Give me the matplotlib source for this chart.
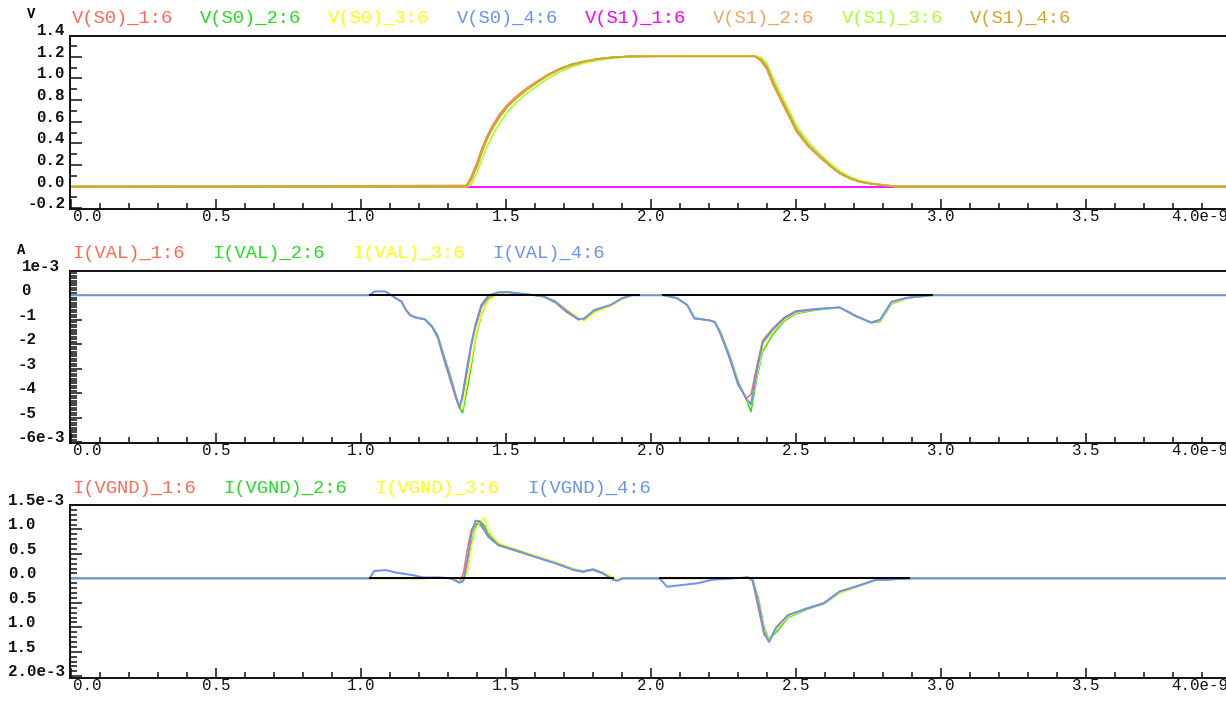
import matplotlib
matplotlib.use("Agg")
import matplotlib.pyplot as plt
from matplotlib.transforms import blended_transform_factory, ScaledTranslation
from matplotlib.ticker import MultipleLocator

# ---------------- data (time in ns) ----------------
# Panel 1: node voltages
t_v = [0.0, 1.364, 1.38, 1.399, 1.415, 1.433, 1.455, 1.479, 1.505, 1.537, 1.57, 1.606,
       1.645, 1.686, 1.725, 1.767, 1.81, 1.847, 1.9, 1.94, 2.0, 2.359, 2.38, 2.399, 2.422,
       2.456, 2.48, 2.502, 2.54, 2.583, 2.62, 2.652, 2.69, 2.721, 2.76, 2.79, 2.847, 3.983]
v_main = [0, 0, 0.07, 0.186, 0.31, 0.434, 0.55, 0.651, 0.74, 0.822, 0.895, 0.962,
          1.03, 1.086, 1.125, 1.153, 1.175, 1.188, 1.198, 1.203, 1.205, 1.205, 1.17, 1.11, 0.957,
          0.772, 0.645, 0.525, 0.39, 0.278, 0.19, 0.124, 0.075, 0.046, 0.028, 0.018, 0.0, 0.0]
v_lead = [0, 0.01, 0.09, 0.21, 0.335, 0.455, 0.57, 0.67, 0.755, 0.835, 0.905, 0.97,
          1.035, 1.09, 1.128, 1.155, 1.176, 1.189, 1.198, 1.203, 1.205, 1.205, 1.16, 1.09, 0.94,
          0.755, 0.63, 0.51, 0.38, 0.27, 0.185, 0.12, 0.072, 0.044, 0.027, 0.017, 0.0, 0.0]
v_lag = [0, 0, 0.02, 0.12, 0.24, 0.36, 0.48, 0.59, 0.69, 0.78, 0.86, 0.93,
         1.0, 1.06, 1.105, 1.14, 1.165, 1.18, 1.195, 1.202, 1.205, 1.205, 1.19, 1.14, 1.0,
         0.81, 0.68, 0.56, 0.42, 0.30, 0.21, 0.14, 0.085, 0.055, 0.03, 0.02, 0.0, 0.0]
v_zero = [0.0] * len(t_v)

# Panel 2: I(VAL) in mA
t_val = [0.0, 1.03, 1.045, 1.06, 1.085, 1.105, 1.12, 1.14, 1.155, 1.17, 1.19, 1.22, 1.245,
         1.265, 1.285, 1.31, 1.33, 1.34, 1.35, 1.365, 1.38, 1.395, 1.415, 1.44, 1.475, 1.505,
         1.545, 1.6, 1.63, 1.67, 1.71, 1.75, 1.77, 1.805, 1.86, 1.9, 1.935, 2.045, 2.09, 2.125,
         2.15, 2.2, 2.22, 2.24, 2.27, 2.3, 2.33, 2.345, 2.365, 2.385, 2.42, 2.46, 2.5, 2.57,
         2.65, 2.71, 2.76, 2.79, 2.83, 2.885, 2.97, 3.983]
ival_1 = [0, 0, 0, 0, 0, 0, -0.12, -0.26, -0.6, -0.82, -0.92, -0.98, -1.3,
          -1.75, -2.6, -3.55, -4.3, -4.55, -4.2, -3.2, -2.1, -1.3, -0.5, -0.05, 0.1, 0.12,
          0.07, 0.0, -0.06, -0.3, -0.7, -1.0, -0.95, -0.62, -0.42, -0.14, 0.0, 0.0, -0.12, -0.4,
          -0.95, -1.02, -1.1, -1.6, -2.55, -3.65, -4.2, -4.05, -2.9, -1.85, -1.35, -0.9, -0.64, -0.55,
          -0.5, -0.88, -1.1, -1.0, -0.28, -0.1, 0.0, 0.0]
ival_2 = [0, 0, 0, 0, 0, 0, -0.12, -0.26, -0.58, -0.8, -0.9, -0.97, -1.25,
          -1.65, -2.4, -3.35, -4.2, -4.6, -4.8, -3.9, -2.9, -1.8, -0.8, -0.15, 0.1, 0.13,
          0.08, 0.0, -0.05, -0.25, -0.62, -0.95, -1.0, -0.66, -0.42, -0.15, 0.0, 0.0, -0.12, -0.4,
          -0.92, -1.02, -1.08, -1.5, -2.4, -3.5, -4.3, -4.75, -3.4, -2.3, -1.6, -1.05, -0.75, -0.6,
          -0.5, -0.85, -1.12, -1.08, -0.35, -0.12, 0.0, 0.0]
ival_3 = [0, 0, 0, 0, 0, 0, -0.12, -0.26, -0.58, -0.8, -0.9, -0.97, -1.26,
          -1.68, -2.45, -3.4, -4.2, -4.55, -4.65, -3.6, -2.7, -1.7, -0.75, -0.2, 0.08, 0.12,
          0.08, 0.0, -0.04, -0.24, -0.6, -0.92, -1.05, -0.7, -0.45, -0.16, 0.0, 0.0, -0.12, -0.4,
          -0.93, -1.02, -1.08, -1.52, -2.45, -3.55, -4.3, -4.5, -3.3, -2.2, -1.5, -1.0, -0.72, -0.58,
          -0.5, -0.85, -1.1, -1.05, -0.33, -0.12, 0.0, 0.0]
ival_4 = [0, 0, 0.15, 0.16, 0.15, 0.0, -0.12, -0.26, -0.6, -0.82, -0.92, -0.98, -1.28,
          -1.7, -2.5, -3.45, -4.25, -4.6, -4.1, -3.0, -2.0, -1.2, -0.4, 0.0, 0.12, 0.13,
          0.07, 0.0, -0.05, -0.26, -0.65, -0.98, -0.95, -0.6, -0.4, -0.12, 0.0, 0.0, -0.12, -0.4,
          -0.95, -1.02, -1.09, -1.56, -2.5, -3.6, -4.25, -4.45, -3.1, -1.95, -1.4, -0.94, -0.67, -0.57,
          -0.49, -0.87, -1.12, -1.0, -0.26, -0.1, 0.0, 0.0]
val_ref_segments = [(1.03, 1.96), (2.04, 2.97)]

# Panel 3: I(VGND) in mA
t_gnd = [0.0, 1.03, 1.045, 1.085, 1.12, 1.175, 1.215, 1.27, 1.31, 1.34, 1.353, 1.367, 1.381,
         1.395, 1.41, 1.425, 1.44, 1.475, 1.53, 1.6, 1.67, 1.735, 1.765, 1.8, 1.835, 1.87,
         1.885, 1.9, 2.03, 2.055, 2.1, 2.16, 2.21, 2.28, 2.335, 2.35, 2.37, 2.39, 2.407, 2.432,
         2.473, 2.54, 2.596, 2.65, 2.72, 2.775, 2.8, 2.9, 3.983]
ignd_1 = [0, 0, 0, 0, 0, 0, 0, 0.01, 0, -0.07, 0.1, 0.6, 1.0,
          1.12, 1.1, 0.98, 0.84, 0.67, 0.57, 0.44, 0.31, 0.17, 0.13, 0.17, 0.1, -0.02,
          -0.04, 0, 0, 0, 0, 0, 0, 0, 0.02, -0.05, -0.6, -1.15, -1.28, -1.0, -0.75,
          -0.61, -0.5, -0.27, -0.14, -0.03, -0.03, 0, 0]
ignd_2 = [0, 0, 0, 0, 0, 0, 0, 0.01, 0, -0.06, -0.04, 0.15, 0.7,
          1.05, 1.18, 1.08, 0.9, 0.7, 0.6, 0.46, 0.33, 0.19, 0.15, 0.19, 0.12, 0.0,
          -0.04, 0, 0, 0, 0, 0, 0, 0, 0.02, -0.01, -0.4, -1.0, -1.25, -1.1, -0.8,
          -0.63, -0.52, -0.3, -0.15, -0.04, -0.03, 0, 0]
ignd_3 = [0, 0, 0, 0, 0, 0, 0, 0.01, 0, -0.06, -0.04, 0.12, 0.65,
          1.0, 1.15, 1.24, 0.95, 0.72, 0.6, 0.46, 0.33, 0.19, 0.15, 0.17, 0.12, 0.01,
          -0.03, 0, 0, 0, 0, 0, 0, 0, 0.02, -0.01, -0.45, -1.05, -1.27, -1.05, -0.78,
          -0.62, -0.52, -0.3, -0.15, -0.04, -0.03, 0, 0]
ignd_4 = [0, 0, 0.15, 0.17, 0.12, 0.07, 0.02, 0.02, 0, -0.09, -0.05, 0.37, 0.92,
          1.18, 1.16, 1.0, 0.85, 0.68, 0.58, 0.44, 0.31, 0.17, 0.14, 0.18, 0.1, -0.03,
          -0.05, 0, 0, -0.17, -0.14, -0.1, -0.03, 0, 0.02, -0.03, -0.5, -1.1, -1.3, -1.0, -0.75,
          -0.61, -0.51, -0.27, -0.14, -0.03, -0.03, 0, 0]
gnd_ref_segments = [(1.03, 1.87), (2.03, 2.89)]

v_names = ["V(S0)_1:6", "V(S0)_2:6", "V(S0)_3:6", "V(S0)_4:6",
           "V(S1)_1:6", "V(S1)_2:6", "V(S1)_3:6", "V(S1)_4:6"]
val_names = ["I(VAL)_1:6", "I(VAL)_2:6", "I(VAL)_3:6", "I(VAL)_4:6"]
gnd_names = ["I(VGND)_1:6", "I(VGND)_2:6", "I(VGND)_3:6", "I(VGND)_4:6"]

x_major = [0.0, 0.5, 1.0, 1.5, 2.0, 2.5, 3.0, 3.5, 4.0]
x_labels = ["0.0", "0.5", "1.0", "1.5", "2.0", "2.5", "3.0", "3.5", "4.0e-9"]
v_ticks = [1.4, 1.2, 1.0, 0.8, 0.6, 0.4, 0.2, 0.0, -0.2]
v_ticklabels = ["1.4", "1.2", "1.0", "0.8", "0.6", "0.4", "0.2", "0.0", "-0.2"]
val_ticks = [1e-3, 0, -1e-3, -2e-3, -3e-3, -4e-3, -5e-3, -6e-3]
val_ticklabels = ["1e-3", "0", "-1", "-2", "-3", "-4", "-5", "-6e-3"]
gnd_ticks = [1.5e-3, 1.0e-3, 0.5e-3, 0.0, -0.5e-3, -1.0e-3, -1.5e-3, -2.0e-3]
gnd_ticklabels = ["1.5e-3", "1.0", "0.5", "0.0", "0.5", "1.0", "1.5", "2.0e-3"]

# ---------------- styling ----------------
C_RED, C_GRN, C_YEL, C_BLU = "#FF6A55", "#22DD22", "#FFFF00", "#6A92F0"
C_MAG, C_SAN, C_GY, C_GOLD = "#FF00FF", "#F4A460", "#ADFF2F", "#DAA520"
v_colors = [C_RED, C_GRN, C_YEL, C_BLU, C_MAG, C_SAN, C_GY, C_GOLD]
i_colors = [C_RED, C_GRN, C_YEL, C_BLU]
i_widths = [1.1, 1.1, 1.1, 1.4]
MONO = "Liberation Mono"

W, H = 1226, 703
fig = plt.figure(figsize=(W / 100, H / 100), dpi=100)


def px_rect(left, top, right, bottom):
    return [left / W, 1 - bottom / H, (right - left) / W, (bottom - top) / H]


XMIN, XMAX = -0.0034, 3.983


def setup_axes(rect, ylim, ymaj, ymin_step):
    ax = fig.add_axes(rect)
    ax.set_xlim(XMIN, XMAX)
    ax.set_ylim(*ylim)
    ax.spines["right"].set_visible(False)
    for s in ("left", "bottom", "top"):
        ax.spines[s].set_linewidth(1.4)
        ax.spines[s].set_color("#111111")
    ax.xaxis.set_major_locator(MultipleLocator(0.5))
    ax.xaxis.set_minor_locator(MultipleLocator(0.1))
    ax.yaxis.set_major_locator(MultipleLocator(ymaj))
    ax.yaxis.set_minor_locator(MultipleLocator(ymin_step))
    ax.tick_params(axis="x", which="major", direction="in", length=7.2, width=1.1,
                   top=False, labelbottom=False, color="#111111")
    ax.tick_params(axis="x", which="minor", direction="in", length=4.3, width=1.1,
                   top=False, color="#111111")
    ax.tick_params(axis="y", which="major", direction="in", length=8.6, width=1.1,
                   right=False, labelleft=False, color="#111111")
    ax.tick_params(axis="y", which="minor", direction="in", length=5.0, width=1.1,
                   right=False, color="#111111")
    return ax


ax1 = setup_axes(px_rect(70, 35.7, W, 209.3), (-0.209, 1.394), 0.2, 0.1)
ax2 = setup_axes(px_rect(70, 271, W, 442.7), (-6.02e-3, 0.99e-3), 1e-3, 1e-4)
ax3 = setup_axes(px_rect(70, 505, W, 677.7), (-2.03e-3, 1.5e-3), 0.5e-3, 1e-4)

# ---------------- traces ----------------
v_series = [v_lead, v_main, v_main, v_main, v_zero, v_main, v_lag, v_main]
for vals, col in zip(v_series, v_colors):
    ax1.plot(t_v, vals, color=col, lw=1.3, solid_joinstyle="round")

for vals, col, lw in zip([ival_1, ival_2, ival_3, ival_4], i_colors, i_widths):
    ax2.plot(t_val, [v * 1e-3 for v in vals], color=col, lw=lw)
for a, b in val_ref_segments:
    ax2.plot([a, b], [0, 0], color="black", lw=1.4, zorder=2.5)

for vals, col, lw in zip([ignd_1, ignd_2, ignd_3, ignd_4], i_colors, i_widths):
    ax3.plot(t_gnd, [v * 1e-3 for v in vals], color=col, lw=lw)
for a, b in gnd_ref_segments:
    ax3.plot([a, b], [0, 0], color="black", lw=1.4, zorder=2.5)

# ---------------- text ----------------
def fig_text(x, y, s, **kw):
    fig.text(x / W, 1 - y / H, s, **kw)


def legend_row(names, colors, x0, baseline, char_w=11.67):
    x = x0
    for name, col in zip(names, colors):
        fig_text(x, baseline, name, color=col, fontsize=13.5, family=MONO,
                 ha="left", va="baseline")
        x += (len(name) + 2) * char_w


legend_row(v_names, v_colors, 71.5, 23.3)
legend_row(val_names, i_colors, 71.7, 258.3)
legend_row(gnd_names, i_colors, 71.7, 493.3)

fig_text(31, 18, "V", fontsize=10, family=MONO, weight="bold", ha="center", va="baseline")
fig_text(21.5, 253.5, "A", fontsize=10, family=MONO, weight="bold", ha="center", va="baseline")


def x_labels_row(ax, baseline):
    tr = blended_transform_factory(ax.transData, fig.transFigure)
    yb = 1 - baseline / H
    for xv, lab in zip(x_major, x_labels):
        kw = dict(fontsize=11.3, family=MONO, va="baseline", color="#111111")
        if xv == x_major[0]:
            ax.text(xv, yb, lab, ha="left",
                    transform=tr + ScaledTranslation(0.017, 0, fig.dpi_scale_trans), **kw)
        elif xv == x_major[-1]:
            ax.text(xv, yb, lab, ha="right",
                    transform=tr + ScaledTranslation(-0.025, 0, fig.dpi_scale_trans), **kw)
        else:
            ax.text(xv, yb, lab, ha="center", transform=tr, **kw)


x_labels_row(ax1, 220.7)
x_labels_row(ax2, 455)
x_labels_row(ax3, 690)


def y_labels(ax, ticks, labels, mode):
    tr = blended_transform_factory(fig.transFigure, ax.transData)
    for yv, lab in zip(ticks, labels):
        kw = dict(fontsize=11.4, family=MONO, weight="bold", va="baseline",
                  transform=tr, color="#111111")
        if mode == "right":
            ax.text(65 / W, yv, lab, ha="right", **kw)
        elif mode == "sign":
            xpx = 17 if lab.startswith("-") else 21.5
            ax.text(xpx / W, yv, lab, ha="left", **kw)
        else:
            ax.text(8 / W, yv, lab, ha="left", **kw)


y_labels(ax1, v_ticks, v_ticklabels, "right")
y_labels(ax2, val_ticks, val_ticklabels, "sign")
y_labels(ax3, gnd_ticks, gnd_ticklabels, "left")

fig.savefig("out.png", dpi=100)
